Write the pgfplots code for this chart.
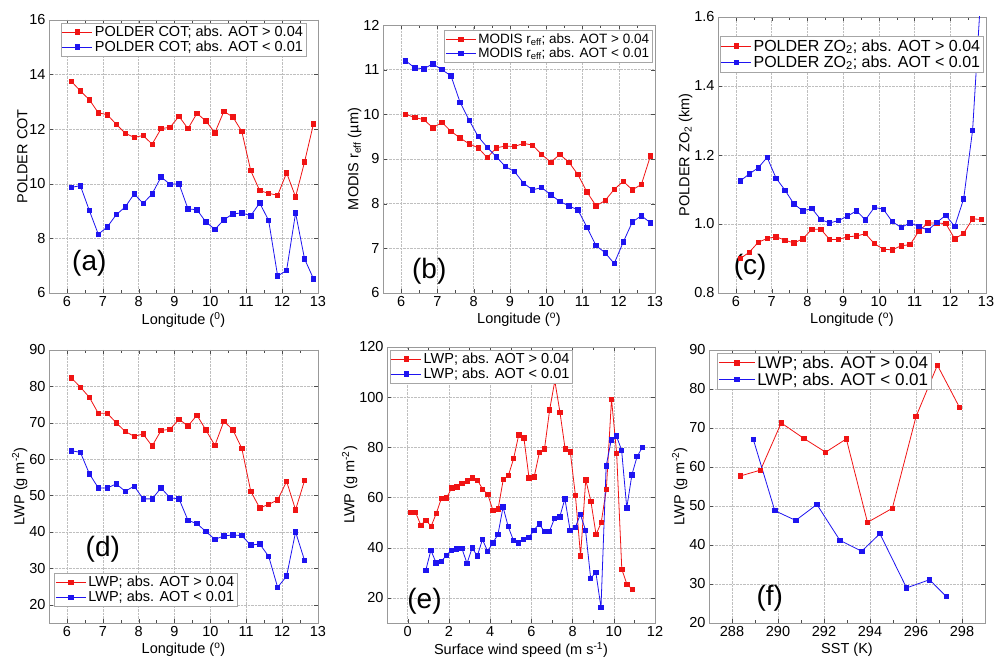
\documentclass[border=0pt]{standalone}
\usepackage{pgfplots}
\pgfplotsset{compat=1.18}
\usepackage{fontspec}
\setmainfont{Liberation Sans}
\definecolor{rr}{RGB}{240,20,20}
\definecolor{bb}{RGB}{30,20,240}
\pgfplotsset{
 P/.style={scale only axis, anchor=south west,
  /pgf/number format/assume math mode=true,
  tick label style={font=\fontsize{14.5}{16}\selectfont},
  label style={font=\fontsize{14.5}{16}\selectfont},
  legend style={font=\fontsize{14.5}{16}\selectfont, draw=gray!70, inner sep=1pt, row sep=-1pt},
  legend image code/.code={\draw[mark repeat=2,mark phase=2] plot coordinates {(0pt,0pt)(15pt,0pt)(30pt,0pt)};},
  legend cell align=left,
  grid=major, grid style={densely dotted, gray!50},
  axis line style={gray!80}, tick style={gray!60!black},
  minor x tick num=1, xtick pos=both, ytick pos=both, tick align=inside,
  clip=true, xlabel shift=-1pt, ylabel shift=-5pt},
 R/.style={rr, thick, mark=square*, mark size=2.2pt},
 B/.style={bb, thick, mark=square*, mark size=2.2pt},
 L/.style={xmin=5.5,xmax=13,xtick={6,...,13}},
}
\newcommand{\plab}[2]{\node[font=\fontsize{28}{30}\selectfont] at (rel axis cs:#1) {#2};}
\begin{document}
\begin{tikzpicture}[x=1pt,y=1pt]
\path[use as bounding box] (0,0) rectangle (994,660);
% (a)
\begin{axis}[P,L,at={(49pt,367pt)},width=269pt,height=273pt,ymin=6,ymax=16,ytick={6,8,...,16},
 xlabel={Longitude (\textsuperscript{0})}, ylabel={POLDER COT},
 legend style={at={(0.5,0.99)},anchor=north}]
\addplot[R] table[x expr=6.125+0.25*\coordindex,y index=0] {
13.75
13.4
13.08
12.6
12.53
12.18
11.85
11.7
11.77
11.45
12.02
12.07
12.47
12.02
12.58
12.3
11.87
12.65
12.45
11.92
10.48
9.75
9.65
9.58
10.4
9.52
10.8
12.2
};
\addplot[B] table[x expr=6.125+0.25*\coordindex,y index=0] {
9.87
9.93
9.02
8.15
8.42
8.87
9.15
9.63
9.28
9.63
10.25
9.98
10.0
9.08
9.05
8.6
8.33
8.68
8.9
8.93
8.83
9.3
8.65
6.62
6.83
8.93
7.25
6.52
};
\legend{POLDER COT; abs. AOT > 0.04, POLDER COT; abs. AOT < 0.01}
\plab{0.15,0.11}{(a)}
\end{axis}
% (b)
\begin{axis}[P,L,at={(383pt,367pt)},width=272pt,height=268pt,ymin=6,ymax=12,ytick={6,...,12},
 xlabel={Longitude (\textsuperscript{o})}, ylabel={MODIS r\textsubscript{eff} (µm)},
 legend style={at={(0.99,0.98)},anchor=north east,font=\fontsize{13.5}{15}\selectfont}]
\addplot[R] table[x expr=6.125+0.25*\coordindex,y index=0] {
10.0
9.93
9.88
9.7
9.82
9.62
9.47
9.34
9.25
9.03
9.25
9.29
9.28
9.35
9.31
9.1
8.93
9.1
8.93
8.65
8.26
7.95
8.07
8.32
8.5
8.31
8.43
9.07
};
\addplot[B] table[x expr=6.125+0.25*\coordindex,y index=0] {
11.2
11.04
11.02
11.13
11.0
10.86
10.27
9.87
9.5
9.26
9.05
8.83
8.72
8.46
8.31
8.36
8.2
8.05
7.95
7.86
7.47
7.06
6.9
6.66
7.14
7.59
7.73
7.57
};
\legend{MODIS r\textsubscript{eff}; abs. AOT > 0.04, MODIS r\textsubscript{eff}; abs. AOT < 0.01}
\plab{0.17,0.08}{(b)}
\end{axis}
% (c)
\begin{axis}[P,L,at={(718pt,367pt)},width=268pt,height=276pt,ymin=0.8,ymax=1.6,ytick={0.8,1.0,...,1.6},
 yticklabel style={/pgf/number format/.cd,fixed,fixed zerofill,precision=1},
 xlabel={Longitude (\textsuperscript{o})}, ylabel={POLDER ZO\textsubscript{2} (km)},
 legend style={at={(0.99,0.93)},anchor=north east,font=\fontsize{16}{18}\selectfont}]
\addplot[R] table[x expr=6.125+0.25*\coordindex,y index=0] {
0.90
0.918
0.947
0.958
0.963
0.953
0.945
0.957
0.985
0.985
0.955
0.955
0.963
0.965
0.972
0.943
0.927
0.925
0.937
0.94
0.98
1.003
1.003
1.001
0.957
0.973
1.015
1.013
};
\addplot[B] table[x expr=6.125+0.25*\coordindex,y index=0] {
1.125
1.145
1.163
1.193
1.133
1.098
1.058
1.038
1.045
1.013
1.003
1.01
1.023
1.038
1.012
1.048
1.043
1.007
0.99
1.003
0.993
0.982
1.005
1.025
0.993
1.073
1.272
1.70
};
\legend{POLDER ZO\textsubscript{2}; abs. AOT > 0.04, POLDER ZO\textsubscript{2}; abs. AOT < 0.01}
\plab{0.12,0.095}{(c)}
\end{axis}
% (d)
\begin{axis}[P,L,at={(49pt,37pt)},width=269pt,height=273pt,ymin=15,ymax=90,ytick={20,30,...,90},
 xlabel={Longitude (\textsuperscript{o})}, ylabel={LWP (g m\textsuperscript{-2})},
 legend style={at={(0.02,0.06)},anchor=south west}]
\addplot[R] table[x expr=6.125+0.25*\coordindex,y index=0] {
82.3
79.8
77.0
72.6
72.6
70.0
67.6
66.3
66.9
63.6
67.9
68.2
71.0
69.1
72.1
68.0
63.8
70.4
68.1
63.0
51.2
46.6
47.6
48.8
53.9
46.1
54.1
};
\addplot[B] table[x expr=6.125+0.25*\coordindex,y index=0] {
62.3
61.9
56.0
52.1
52.1
53.2
51.2
52.6
49.1
49.1
52.1
49.4
49.1
43.2
42.3
40.1
38.0
38.9
39.2
39.0
36.4
36.7
33.3
24.8
27.9
40.0
32.2
};
\legend{LWP; abs. AOT > 0.04, LWP; abs. AOT < 0.01}
\plab{0.2,0.27}{(d)}
\end{axis}
% (e)
\begin{axis}[P,at={(387pt,37pt)},width=268pt,height=276pt,xmin=-1,xmax=12,xtick={0,2,...,12},ymin=10,ymax=120,ytick={20,40,...,120},
 xlabel={Surface wind speed (m s\textsuperscript{-1})}, ylabel={LWP (g m\textsuperscript{-2})},
 legend style={at={(0.01,0.99)},anchor=north west}]
\addplot[R] table[x expr=0.14+0.25*\coordindex,y index=0] {
54
54
49
51
48.5
53.7
59.7
59.9
63.8
64.3
65.7
66.6
67.8
66.9
63.3
61.2
54.9
55.5
67.2
68.8
75.5
85
83.8
67.8
68.3
77.9
79.4
95
106.5
94
79.4
78.2
60.8
36.8
67.1
58.5
45.3
50
63.3
99.2
77.6
31.4
25.4
23.5
};
\addplot[B] table[x expr=0.88+0.25*\coordindex,y index=0] {
31
39
34
34.5
37
39
39.5
39.8
33.8
39.9
36.7
43.3
38.6
41.9
45.2
56.2
48.4
43
42
43.3
44
47
49.5
46.5
46.5
51.8
52.3
59.5
47
48
53.3
47
27.8
30.2
16.2
72.6
83
84.5
78.9
55.9
69.1
76.3
79.9
};
\legend{LWP; abs. AOT > 0.04, LWP; abs. AOT < 0.01}
\plab{0.14,0.08}{(e)}
\end{axis}
% (f)
\begin{axis}[P,at={(709pt,37pt)},width=276pt,height=273pt,xmin=287,xmax=299,xtick={288,290,...,298},ymin=20,ymax=90,ytick={20,30,...,90},
 xlabel={SST (K)}, ylabel={LWP (g m\textsuperscript{-2})},
 legend style={at={(0.03,0.99)},anchor=north west,font=\fontsize{17}{19}\selectfont},
 legend image code/.code={\draw[mark repeat=2,mark phase=2] plot coordinates {(0pt,0pt)(18pt,0pt)(36pt,0pt)};}]
\addplot[R] coordinates {(288.36,57.7)(289.24,59.2)(290.14,71.3)(291.13,67.3)(292.07,63.8)(292.97,67.2)(293.89,45.8)(294.97,49.4)(296.0,72.9)(296.93,86.1)(297.89,75.3)};
\addplot[B] coordinates {(288.93,67)(289.86,48.8)(290.77,46.3)(291.69,50.4)(292.69,41.2)(293.64,38.4)(294.43,42.9)(295.59,29.0)(296.59,31.1)(297.31,26.8)};
\legend{LWP; abs. AOT > 0.04, LWP; abs. AOT < 0.01}
\plab{0.22,0.09}{(f)}
\end{axis}
\end{tikzpicture}
\end{document}
